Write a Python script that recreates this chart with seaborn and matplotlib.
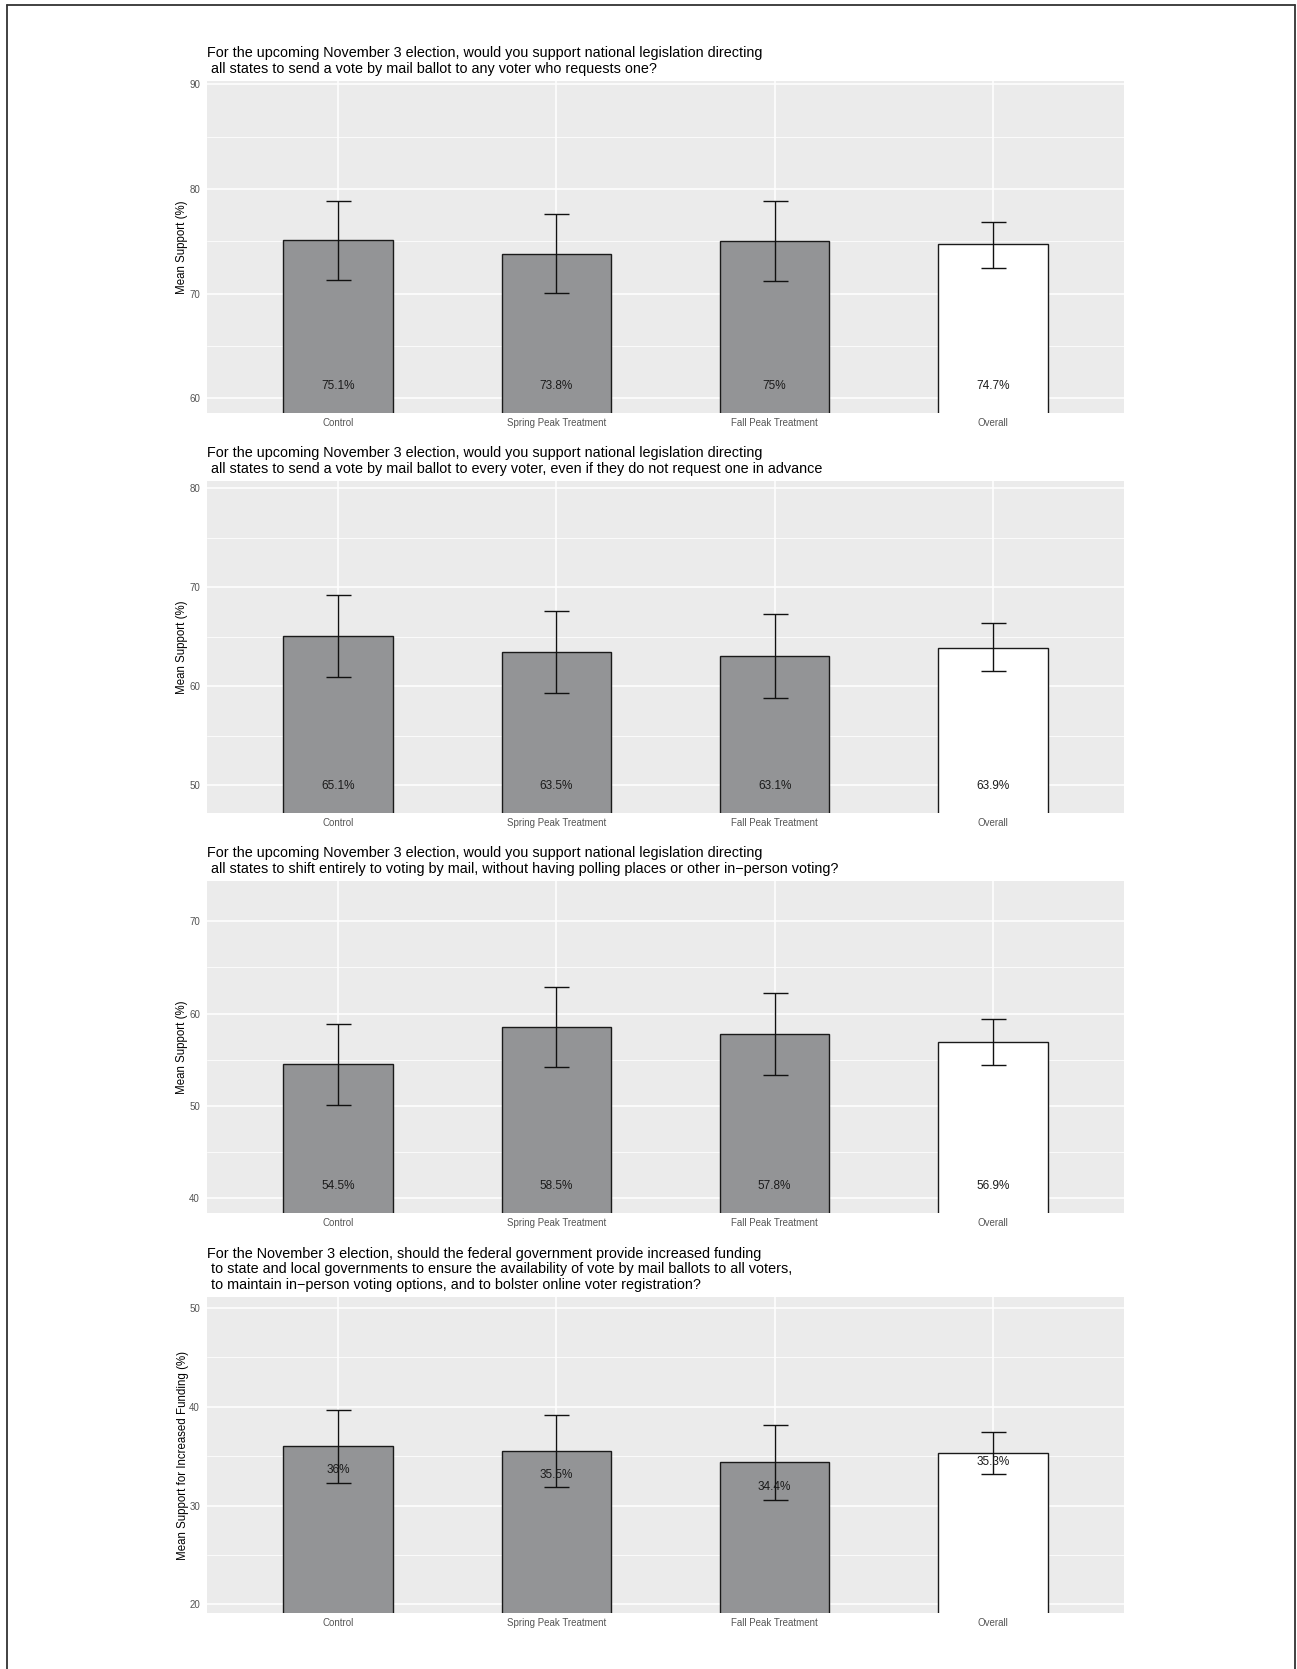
import numpy as np
import pandas as pd
import seaborn as sns
import matplotlib
matplotlib.use("Agg")
import matplotlib.pyplot as plt
from matplotlib.ticker import MultipleLocator
from matplotlib.lines import Line2D
import matplotlib.transforms as mtransforms

# ---------------- data ----------------
categories = ["Control", "Spring Peak Treatment", "Fall Peak Treatment", "Overall"]

titles = [
    "For the upcoming November 3 election, would you support national legislation directing\n"
    " all states to send a vote by mail ballot to any voter who requests one?",
    "For the upcoming November 3 election, would you support national legislation directing\n"
    " all states to send a vote by mail ballot to every voter, even if they do not request one in advance",
    "For the upcoming November 3 election, would you support national legislation directing\n"
    " all states to shift entirely to voting by mail, without having polling places or other in\u2212person voting?",
    "For the November 3 election, should the federal government provide increased funding\n"
    " to state and local governments to ensure the availability of vote by mail ballots to all voters,\n"
    " to maintain in\u2212person voting options, and to bolster online voter registration?",
]
ylabels = ["Mean Support (%)", "Mean Support (%)", "Mean Support (%)",
           "Mean Support for Increased Funding (%)"]

q1_mean = [75.1, 73.8, 75.0, 74.7]
q1_low = [71.35, 70.05, 71.2, 72.5]
q1_high = [78.85, 77.6, 78.9, 76.85]

q2_mean = [65.1, 63.5, 63.1, 63.9]
q2_low = [60.95, 59.35, 58.85, 61.5]
q2_high = [69.25, 67.65, 67.35, 66.35]

q3_mean = [54.5, 58.5, 57.8, 56.9]
q3_low = [50.1, 54.2, 53.3, 54.4]
q3_high = [58.9, 62.9, 62.25, 59.4]

q4_mean = [36.0, 35.5, 34.4, 35.3]
q4_low = [32.3, 31.85, 30.6, 33.15]
q4_high = [39.7, 39.15, 38.15, 37.45]

means = [q1_mean, q2_mean, q3_mean, q4_mean]
lows = [q1_low, q2_low, q3_low, q4_low]
highs = [q1_high, q2_high, q3_high, q4_high]

ylims = [(58.6, 90.32), (47.2, 80.74), (38.37, 74.38), (19.12, 51.12)]
yticks = [[60, 70, 80, 90], [50, 60, 70, 80], [40, 50, 60, 70], [20, 30, 40, 50]]

# ---------------- style ----------------
sns.set_theme(style="darkgrid")
plt.rcParams["font.family"] = ["Liberation Sans", "DejaVu Sans"]

W, H = 1297, 1669
fig = plt.figure(figsize=(W / 100, H / 100), dpi=100)
fig.patch.set_facecolor("white")

# axes boxes in pixels: (top, bottom)
boxes = [(81, 413), (481, 813), (881, 1213), (1297, 1613)]
left_px, right_px = 207, 1124

bar_colors = ["#939497", "#939497", "#939497", "#FFFFFF"]

for k in range(4):
    top, bot = boxes[k]
    ax = fig.add_axes([left_px / W, 1 - bot / H, (right_px - left_px) / W, (bot - top) / H])
    ax.set_facecolor("#EBEBEB")
    df = pd.DataFrame({"group": categories, "value": means[k]})
    sns.barplot(data=df, x="group", y="value", hue="group", palette=bar_colors,
                order=categories, hue_order=categories, legend=False,
                width=0.5, edgecolor="#1a1a1a", linewidth=1.0, errorbar=None,
                ax=ax, zorder=2)
    m = np.array(means[k])
    lo = np.array(lows[k])
    hi = np.array(highs[k])
    xs = np.arange(len(categories))
    ax.errorbar(xs, m, yerr=[m - lo, hi - m], fmt="none", ecolor="#111111",
                elinewidth=1.0, capsize=9, capthick=1.0, zorder=3)

    ax.set_xlim(-0.6, 3.6)
    ax.set_ylim(*ylims[k])
    ax.set_yticks(yticks[k])
    ax.yaxis.set_minor_locator(MultipleLocator(5))
    ax.set_axisbelow(True)
    ax.grid(which="major", color="white", linewidth=1.1)
    ax.grid(which="minor", axis="y", color="white", linewidth=0.55)
    for s in ax.spines.values():
        s.set_visible(False)
    ax.tick_params(axis="both", which="major", length=3, width=0.8, color="#333333",
                   labelsize=7, labelcolor="#555555", pad=2)
    ax.tick_params(axis="x", which="major", pad=0.8)
    ax.tick_params(axis="both", which="minor", length=0)
    ax.set_xlabel("")
    ax.set_ylabel(ylabels[k], fontsize=8.3, color="black", labelpad=0.5)
    ax.set_title(titles[k], loc="left", fontsize=10.4, color="black", pad=6,
                 linespacing=1.12)

    labels = [f"{v:g}%" for v in means[k]]
    if k < 3:
        trans = mtransforms.blended_transform_factory(ax.transData, ax.transAxes)
        for i, lab in enumerate(labels):
            ax.text(i, 0.082, lab, transform=trans, ha="center", va="center",
                    fontsize=8.5, color="#1a1a1a", zorder=4)
    else:
        for i, lab in enumerate(labels):
            ax.annotate(lab, xy=(i, lo[i]), xytext=(0, 9), textcoords="offset points",
                        ha="center", va="center", fontsize=8.5, color="#1a1a1a", zorder=4)

# figure border (left, top, right)
bc = "#333333"
fig.add_artist(Line2D([6.5 / W, 6.5 / W], [0, 1 - 5.5 / H], color=bc, lw=1.3,
                      transform=fig.transFigure))
fig.add_artist(Line2D([6.5 / W, 1295 / W], [1 - 5.5 / H, 1 - 5.5 / H], color=bc, lw=1.3,
                      transform=fig.transFigure))
fig.add_artist(Line2D([1295 / W, 1295 / W], [0, 1 - 5.5 / H], color=bc, lw=1.3,
                      transform=fig.transFigure))

fig.savefig("out.png", dpi=100, facecolor="white")
